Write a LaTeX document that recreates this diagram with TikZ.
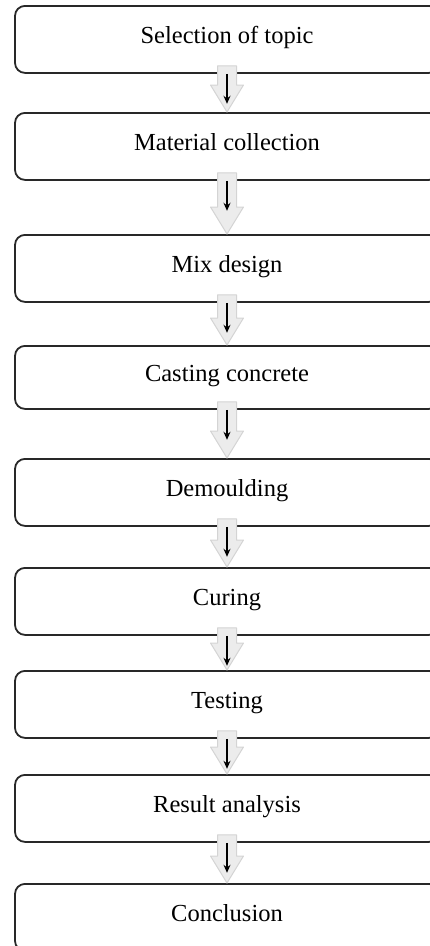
\documentclass[tikz,border=0pt]{standalone}
\usepackage{fontspec}
\setmainfont{Liberation Serif}
\usepackage{tikz}
\usetikzlibrary{arrows.meta,calc}
\definecolor{edge}{RGB}{40,40,40}
\definecolor{pipe}{RGB}{236,236,236}
\definecolor{pipeline}{RGB}{212,212,212}
\tikzset{
  stepbox/.style={draw=edge, line width=1.8pt, rounded corners=10pt, fill=white, align=center,
    minimum width=424pt, minimum height=67pt, text height=18pt, text depth=10pt,
    anchor=north, font=\fontsize{24.5}{28}\selectfont},
  pipeflow/.style={fill=pipe, draw=pipeline, line width=1pt, line join=round},
  flow/.style={draw=black, line width=1.6pt, -{Stealth[length=8pt, width=7pt]}}
}
\begin{document}
\begin{tikzpicture}[x=1pt, y=1pt]
    \path[use as bounding box, clip] (0,0) rectangle (430,-946);
    % steps, centred at x=227, tops measured from the page top
    \node[stepbox] (s1) at (227,-5)   {Selection of topic};
    \node[stepbox] (s2) at (227,-112) {Material collection};
    \node[stepbox] (s3) at (227,-234) {Mix design};
    \node[stepbox, minimum height=63pt] (s4) at (227,-345) {Casting concrete};
    \node[stepbox] (s5) at (227,-458) {Demoulding};
    \node[stepbox] (s6) at (227,-567) {Curing};
    \node[stepbox] (s7) at (227,-670) {Testing};
    \node[stepbox] (s8) at (227,-774) {Result analysis};
    \node[stepbox] (s9) at (227,-883) {Conclusion};

    % grey block arrow with a thin black arrow inside
    \foreach \a/\b in {s1/s2,s2/s3,s3/s4,s4/s5,s5/s6,s6/s7,s7/s8,s8/s9} {
      \path[pipeflow] let \p1=(\a.south), \p2=(\b.north) in
        (\x1-9.5pt,\y1+8pt) -- (\x1+9.5pt,\y1+8pt) -- (\x1+9.5pt,\y2+27pt)
        -- (\x1+16.5pt,\y2+27pt) -- (\x1,\y2) -- (\x1-16.5pt,\y2+27pt)
        -- (\x1-9.5pt,\y2+27pt) -- cycle;
      \draw[flow] (\a.south) -- ++(0,-30);
    }
\end{tikzpicture}
\end{document}
